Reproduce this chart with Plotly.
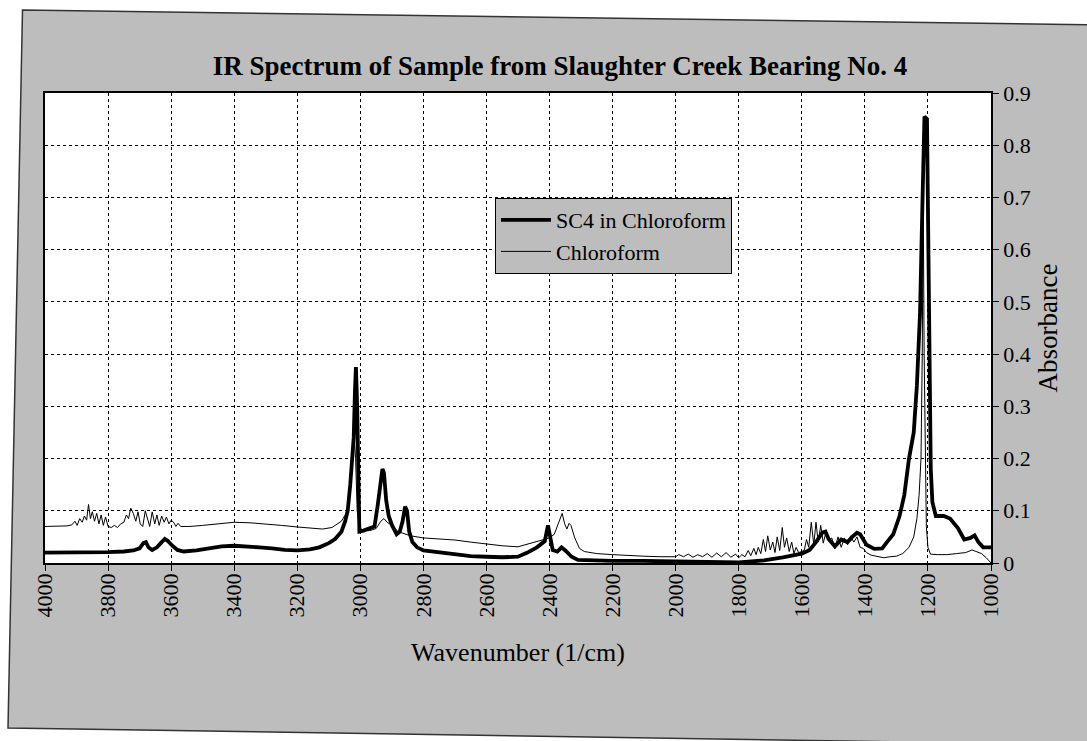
import plotly.graph_objects as go

# ---------------- data ----------------
sc4_wavenumber = [4000, 3950, 3900, 3850, 3800, 3750, 3720, 3700, 3688, 3680, 3672, 3660, 3645, 3630,
                  3620, 3610, 3598, 3580, 3560, 3520, 3480, 3440, 3400, 3360, 3320, 3280, 3240, 3200,
                  3160, 3130, 3100, 3080, 3060, 3048, 3040, 3032, 3026, 3021, 3017, 3014, 3010, 3007,
                  3003, 2990, 2970, 2955, 2945, 2937, 2930, 2925, 2918, 2910, 2900, 2885, 2875, 2866,
                  2858, 2852, 2845, 2835, 2820, 2800, 2750, 2700, 2650, 2600, 2550, 2500, 2470, 2440,
                  2415, 2405, 2398, 2390, 2375, 2362, 2350, 2330, 2310, 2280, 2200, 2100, 2000, 1900,
                  1800, 1760, 1720, 1660, 1600, 1575, 1555, 1535, 1525, 1515, 1495, 1475, 1455, 1440,
                  1425, 1415, 1395, 1370, 1345, 1330, 1310, 1290, 1275, 1260, 1245, 1235, 1225, 1217,
                  1211, 1203, 1198, 1196, 1194, 1191, 1186, 1175, 1150, 1130, 1105, 1085, 1065, 1052,
                  1040, 1025, 1000]
sc4_absorbance = [0.020, 0.020, 0.020, 0.021, 0.021, 0.022, 0.024, 0.028, 0.038, 0.040, 0.030, 0.025, 0.030, 0.040,
                  0.046, 0.042, 0.034, 0.025, 0.022, 0.024, 0.028, 0.032, 0.033, 0.032, 0.030, 0.028, 0.025, 0.024,
                  0.026, 0.030, 0.038, 0.046, 0.060, 0.080, 0.100, 0.150, 0.200, 0.240, 0.330, 0.375, 0.300, 0.150,
                  0.060, 0.062, 0.066, 0.070, 0.110, 0.150, 0.180, 0.172, 0.120, 0.090, 0.073, 0.055, 0.060, 0.080,
                  0.108, 0.100, 0.060, 0.040, 0.030, 0.024, 0.020, 0.016, 0.013, 0.012, 0.011, 0.012, 0.020, 0.030,
                  0.042, 0.072, 0.045, 0.025, 0.022, 0.030, 0.024, 0.012, 0.006, 0.005, 0.004, 0.004, 0.003, 0.002,
                  0.001, 0.003, 0.005, 0.011, 0.018, 0.025, 0.040, 0.058, 0.060, 0.046, 0.032, 0.045, 0.040, 0.050,
                  0.058, 0.055, 0.035, 0.027, 0.028, 0.040, 0.055, 0.090, 0.130, 0.200, 0.250, 0.340, 0.480, 0.700,
                  0.855, 0.850, 0.590, 0.400, 0.300, 0.180, 0.117, 0.090, 0.090, 0.085, 0.067, 0.045, 0.048, 0.053,
                  0.040, 0.030, 0.030]

chcl3_wavenumber = [4000, 3960, 3930, 3915, 3905, 3898, 3890, 3882, 3875, 3868, 3862, 3856, 3850, 3843,
                    3836, 3829, 3822, 3815, 3808, 3800, 3790, 3780, 3770, 3760, 3750, 3742, 3735, 3728,
                    3720, 3712, 3705, 3698, 3690, 3682, 3675, 3668, 3660, 3652, 3645, 3638, 3630, 3622,
                    3615, 3607, 3600, 3592, 3585, 3578, 3570, 3540, 3500, 3450, 3400, 3350, 3300, 3250,
                    3200, 3150, 3120, 3090, 3060, 3045, 3035, 3026, 3020, 3015, 3010, 3003, 2990, 2970,
                    2950, 2935, 2925, 2915, 2900, 2880, 2860, 2840, 2800, 2750, 2700, 2650, 2600, 2550,
                    2500, 2470, 2440, 2420, 2400, 2385, 2375, 2365, 2360, 2352, 2345, 2338, 2332, 2320,
                    2305, 2290, 2250, 2200, 2150, 2100, 2050, 2000, 1990, 1975, 1960, 1945, 1930, 1915,
                    1900, 1885, 1870, 1855, 1840, 1825, 1810, 1800, 1790, 1780, 1770, 1762, 1752, 1745,
                    1738, 1730, 1722, 1715, 1708, 1700, 1692, 1685, 1678, 1670, 1662, 1655, 1648, 1640,
                    1632, 1625, 1618, 1610, 1600, 1592, 1585, 1578, 1570, 1562, 1555, 1548, 1540, 1532,
                    1525, 1515, 1505, 1495, 1485, 1475, 1465, 1455, 1445, 1435, 1425, 1415, 1405, 1395,
                    1380, 1360, 1340, 1320, 1300, 1280, 1260, 1245, 1235, 1228, 1222, 1218, 1215, 1212,
                    1208, 1205, 1200, 1192, 1170, 1140, 1110, 1080, 1060, 1045, 1030, 1015, 1000]
chcl3_absorbance = [0.070, 0.070, 0.071, 0.073, 0.080, 0.072, 0.085, 0.078, 0.090, 0.082, 0.112, 0.085, 0.098, 0.080,
                    0.095, 0.075, 0.092, 0.072, 0.088, 0.070, 0.068, 0.072, 0.068, 0.075, 0.078, 0.092, 0.085, 0.105,
                    0.095, 0.080, 0.098, 0.075, 0.070, 0.100, 0.085, 0.070, 0.098, 0.075, 0.092, 0.072, 0.090, 0.078,
                    0.088, 0.075, 0.082, 0.078, 0.070, 0.076, 0.070, 0.070, 0.072, 0.075, 0.078, 0.077, 0.075, 0.072,
                    0.069, 0.066, 0.065, 0.068, 0.080, 0.095, 0.130, 0.200, 0.250, 0.200, 0.100, 0.068, 0.062, 0.062,
                    0.066, 0.080, 0.085, 0.078, 0.072, 0.060, 0.056, 0.052, 0.048, 0.046, 0.044, 0.040, 0.036, 0.033,
                    0.031, 0.036, 0.040, 0.044, 0.048, 0.055, 0.070, 0.088, 0.095, 0.075, 0.065, 0.076, 0.072, 0.048,
                    0.028, 0.022, 0.018, 0.016, 0.014, 0.013, 0.012, 0.012, 0.016, 0.012, 0.017, 0.011, 0.016, 0.012,
                    0.018, 0.011, 0.019, 0.012, 0.020, 0.011, 0.017, 0.010, 0.016, 0.012, 0.024, 0.014, 0.028, 0.016,
                    0.030, 0.018, 0.045, 0.022, 0.052, 0.025, 0.040, 0.020, 0.050, 0.024, 0.068, 0.030, 0.048, 0.022,
                    0.040, 0.018, 0.030, 0.020, 0.022, 0.025, 0.045, 0.030, 0.078, 0.035, 0.078, 0.040, 0.072, 0.038,
                    0.055, 0.042, 0.048, 0.028, 0.050, 0.030, 0.048, 0.035, 0.052, 0.040, 0.050, 0.030, 0.028, 0.020,
                    0.015, 0.012, 0.010, 0.012, 0.013, 0.018, 0.030, 0.050, 0.085, 0.130, 0.200, 0.400, 0.700, 0.400,
                    0.150, 0.070, 0.030, 0.017, 0.016, 0.016, 0.018, 0.020, 0.025, 0.022, 0.018, 0.010, 0.000]

x_ticks = [4000, 3800, 3600, 3400, 3200, 3000, 2800, 2600, 2400, 2200, 2000, 1800, 1600, 1400, 1200, 1000]
y_ticks = [0, 0.1, 0.2, 0.3, 0.4, 0.5, 0.6, 0.7, 0.8, 0.9]

title_text = "IR Spectrum of Sample from Slaughter Creek Bearing No. 4"
x_title = "Wavenumber (1/cm)"
y_title = "Absorbance"
series_names = ["SC4 in Chloroform", "Chloroform"]

# ---------------- layout constants ----------------
W, H = 1087, 741
L, R, T, B = 45, 991, 93, 563  # plot area in pixels
FONT = "Liberation Serif, Times New Roman, serif"
GRAY = "#bdbdbd"


def px_to_paper_x(p):
    return (p - L) / (R - L)


def px_to_paper_y(p):
    return (B - p) / (B - T)


fig = go.Figure()
fig.add_trace(go.Scatter(x=sc4_wavenumber, y=sc4_absorbance, mode="lines", name=series_names[0],
                         line=dict(color="black", width=3.8)))
fig.add_trace(go.Scatter(x=chcl3_wavenumber, y=chcl3_absorbance, mode="lines", name=series_names[1],
                         line=dict(color="black", width=1)))

# outer gray panel (slightly skewed like the scanned page) and white plot area
corners = [(22.5, 10), (1110, 25), (1100, 745), (8, 728)]
path = "M " + " L ".join(f"{px_to_paper_x(cx):.5f},{px_to_paper_y(cy):.5f}" for cx, cy in corners) + " Z"
fig.add_shape(type="path", path=path, xref="paper", yref="paper", layer="below",
              fillcolor=GRAY, line=dict(color="#333333", width=1.5))
fig.add_shape(type="rect", xref="paper", yref="paper", x0=0, x1=1, y0=0, y1=1, layer="below",
              fillcolor="white", line=dict(width=0))

fig.update_layout(
    width=W, height=H,
    margin=dict(l=L, r=W - R, t=T, b=H - B),
    paper_bgcolor="white", plot_bgcolor="white",
    font=dict(family=FONT, color="black", size=22),
    title=dict(text=f"<b>{title_text}</b>", font=dict(family=FONT, size=27, color="black"),
               x=px_to_paper_x(560), xref="paper", xanchor="center",
               y=1 - 66 / H, yref="container", yanchor="middle"),
    showlegend=True,
    legend=dict(x=px_to_paper_x(495), y=px_to_paper_y(198), xanchor="left", yanchor="top",
                bgcolor=GRAY, bordercolor="black", borderwidth=1,
                font=dict(family=FONT, size=22, color="black"),
                tracegroupgap=0, itemwidth=50),
)

fig.update_xaxes(
    range=[4000, 1000], tickvals=x_ticks, ticktext=[str(v) for v in x_ticks],
    tickangle=-90, ticks="outside", ticklen=6, tickcolor="black",
    tickfont=dict(family=FONT, size=22, color="black"),
    ticklabelstandoff=-6,
    showline=True, linecolor="black", linewidth=1.5, mirror=True,
    showgrid=True, gridcolor="black", gridwidth=1, griddash="dot",
    zeroline=False,
    title=dict(text=x_title, font=dict(family=FONT, size=26, color="black"), standoff=26),
)
fig.update_yaxes(
    side="right", range=[0, 0.9], tickvals=y_ticks, ticktext=[f"{v:g}" for v in y_ticks],
    ticks="outside", ticklen=6, tickcolor="black",
    tickfont=dict(family=FONT, size=22, color="black"),
    showline=True, linecolor="black", linewidth=1.5, mirror=True,
    showgrid=True, gridcolor="black", gridwidth=1, griddash="dot",
    zeroline=False,
    title=dict(text=y_title, font=dict(family=FONT, size=27, color="black"), standoff=8),
)

fig.write_html("out.html", config={"displayModeBar": False},
               post_script="document.body.style.margin='0';")
